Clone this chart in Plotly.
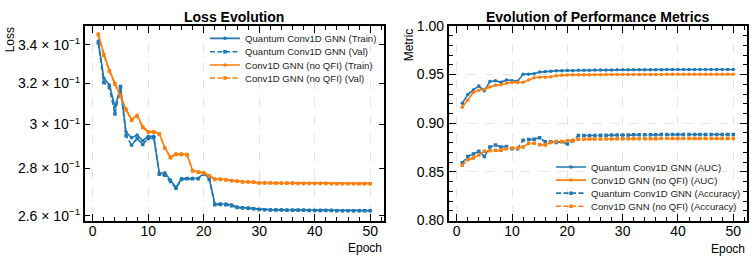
import plotly.graph_objects as go

# ---------------- data ----------------
epochs = list(range(1, 51))

loss_quantum_train = [0.3421, 0.3226, 0.3193, 0.3085, 0.3178, 0.2965, 0.2938, 0.2951, 0.2925, 0.2945,
                      0.2945, 0.2779, 0.2781, 0.2750, 0.2718, 0.2756, 0.2757, 0.2757, 0.2757, 0.2779,
                      0.2756, 0.2649, 0.2649, 0.2648, 0.2645, 0.2635, 0.2633, 0.2631, 0.2629, 0.2626,
                      0.2625, 0.2624, 0.2624, 0.2624, 0.2623, 0.2623, 0.2623, 0.2623, 0.2622, 0.2622,
                      0.2622, 0.2622, 0.2622, 0.2621, 0.2621, 0.2621, 0.2621, 0.2621, 0.2621, 0.2621]
loss_quantum_val = [0.3410, 0.3205, 0.3180, 0.3050, 0.3185, 0.2948, 0.2905, 0.2935, 0.2908, 0.2935,
                    0.2938, 0.2775, 0.2770, 0.2743, 0.2714, 0.2752, 0.2755, 0.2755, 0.2755, 0.2776,
                    0.2752, 0.2645, 0.2646, 0.2645, 0.2641, 0.2633, 0.2631, 0.2630, 0.2628, 0.2625,
                    0.2624, 0.2623, 0.2623, 0.2623, 0.2622, 0.2622, 0.2622, 0.2622, 0.2621, 0.2621,
                    0.2621, 0.2621, 0.2621, 0.2620, 0.2620, 0.2620, 0.2620, 0.2620, 0.2620, 0.2620]
loss_conv_train = [0.3461, 0.3352, 0.3268, 0.3201, 0.3140, 0.3074, 0.3025, 0.3044, 0.2990, 0.2968,
                   0.2967, 0.2958, 0.2893, 0.2851, 0.2865, 0.2865, 0.2863, 0.2791, 0.2785, 0.2781,
                   0.2769, 0.2754, 0.2754, 0.2752, 0.2747, 0.2745, 0.2742, 0.2742, 0.2741, 0.2738,
                   0.2738, 0.2738, 0.2737, 0.2737, 0.2737, 0.2737, 0.2736, 0.2736, 0.2736, 0.2736,
                   0.2736, 0.2736, 0.2735, 0.2735, 0.2735, 0.2735, 0.2735, 0.2735, 0.2735, 0.2735]
loss_conv_val = [0.3455, 0.3346, 0.3262, 0.3196, 0.3136, 0.3069, 0.3020, 0.3040, 0.2986, 0.2965,
                 0.2964, 0.2955, 0.2890, 0.2848, 0.2862, 0.2862, 0.2860, 0.2789, 0.2783, 0.2779,
                 0.2767, 0.2752, 0.2752, 0.2750, 0.2746, 0.2744, 0.2741, 0.2741, 0.2740, 0.2737,
                 0.2737, 0.2737, 0.2736, 0.2736, 0.2736, 0.2736, 0.2735, 0.2735, 0.2735, 0.2735,
                 0.2735, 0.2735, 0.2734, 0.2734, 0.2734, 0.2734, 0.2734, 0.2734, 0.2734, 0.2734]

auc_quantum = [0.9204, 0.9294, 0.9342, 0.9381, 0.9333, 0.9429, 0.9435, 0.9422, 0.9445, 0.9435,
               0.9432, 0.9502, 0.9502, 0.9509, 0.9525, 0.9531, 0.9534, 0.9538, 0.9540, 0.9541,
               0.9542, 0.9543, 0.9544, 0.9545, 0.9546, 0.9546, 0.9547, 0.9547, 0.9548, 0.9548,
               0.9549, 0.9549, 0.9549, 0.9550, 0.9550, 0.9550, 0.9550, 0.9551, 0.9551, 0.9551,
               0.9551, 0.9551, 0.9552, 0.9552, 0.9552, 0.9552, 0.9552, 0.9552, 0.9552, 0.9552]
auc_conv = [0.9165, 0.9236, 0.9316, 0.9339, 0.9349, 0.9371, 0.9390, 0.9396, 0.9413, 0.9422,
            0.9419, 0.9422, 0.9444, 0.9467, 0.9473, 0.9473, 0.9477, 0.9487, 0.9493, 0.9496,
            0.9497, 0.9498, 0.9498, 0.9499, 0.9499, 0.9499, 0.9500, 0.9500, 0.9500, 0.9500,
            0.9501, 0.9501, 0.9501, 0.9501, 0.9501, 0.9501, 0.9501, 0.9502, 0.9502, 0.9502,
            0.9502, 0.9502, 0.9502, 0.9502, 0.9502, 0.9502, 0.9502, 0.9502, 0.9502, 0.9502]
acc_quantum = [0.8594, 0.8659, 0.8684, 0.8713, 0.8659, 0.8755, 0.8777, 0.8755, 0.8761, 0.8739,
               0.8739, 0.8825, 0.8832, 0.8835, 0.8851, 0.8809, 0.8809, 0.8803, 0.8809, 0.8787,
               0.8819, 0.8873, 0.8873, 0.8874, 0.8875, 0.8876, 0.8877, 0.8878, 0.8879, 0.8880,
               0.8880, 0.8881, 0.8881, 0.8882, 0.8882, 0.8882, 0.8883, 0.8883, 0.8883, 0.8884,
               0.8884, 0.8884, 0.8884, 0.8885, 0.8885, 0.8885, 0.8885, 0.8885, 0.8885, 0.8885]
acc_conv = [0.8568, 0.8626, 0.8642, 0.8674, 0.8713, 0.8716, 0.8722, 0.8722, 0.8739, 0.8745,
            0.8745, 0.8755, 0.8793, 0.8793, 0.8780, 0.8777, 0.8803, 0.8813, 0.8813, 0.8819,
            0.8825, 0.8835, 0.8836, 0.8837, 0.8838, 0.8838, 0.8839, 0.8839, 0.8840, 0.8840,
            0.8840, 0.8841, 0.8841, 0.8841, 0.8841, 0.8841, 0.8842, 0.8842, 0.8842, 0.8842,
            0.8842, 0.8842, 0.8842, 0.8842, 0.8842, 0.8842, 0.8842, 0.8842, 0.8842, 0.8842]

loss_tick_vals = [0.26, 0.28, 0.30, 0.32, 0.34]
loss_tick_text = ["2.6 × 10<sup>−1</sup>", "2.8 × 10<sup>−1</sup>", "3 × 10<sup>−1</sup>",
                  "3.2 × 10<sup>−1</sup>", "3.4 × 10<sup>−1</sup>"]

# ---------------- styling ----------------
W, H = 753, 264
FONT = "Liberation Sans"
BLUE = "#1f77b4"
ORANGE = "#ff7f0e"
GRID = "rgba(0,0,0,0.10)"


def fx(p):
    return p / W


def fy(p):
    return 1 - p / H


L_X = (84.7, 383.8)
R_X = (448.7, 746.8)
Y_PX = (19.0, 226.3)

fig = go.Figure()

series_left = [
    ("Quantum Conv1D GNN (Train)", loss_quantum_train, BLUE, "solid", "circle"),
    ("Quantum Conv1D GNN (Val)", loss_quantum_val, BLUE, "5px,2.5px", "square"),
    ("Conv1D GNN (no QFI) (Train)", loss_conv_train, ORANGE, "solid", "circle"),
    ("Conv1D GNN (no QFI) (Val)", loss_conv_val, ORANGE, "5px,2.5px", "square"),
]
series_right = [
    ("Quantum Conv1D GNN (AUC)", auc_quantum, BLUE, "solid", "circle"),
    ("Conv1D GNN (no QFI) (AUC)", auc_conv, ORANGE, "solid", "circle"),
    ("Quantum Conv1D GNN (Accuracy)", acc_quantum, BLUE, "5px,2.5px", "square"),
    ("Conv1D GNN (no QFI) (Accuracy)", acc_conv, ORANGE, "5px,2.5px", "square"),
]

legend_rows_left = [32.3, 46.5, 60.7, 74.5]
legend_rows_right = [169.3, 183.2, 197.1, 211.0]

layout_legends = {}
k = 1
for (name, vals, col, dash, sym), row in zip(series_left, legend_rows_left):
    lname = "legend" if k == 1 else f"legend{k}"
    fig.add_trace(go.Scatter(x=epochs, y=vals, name=name, mode="lines+markers",
                             line=dict(color=col, width=1.6, dash=dash),
                             marker=dict(symbol=sym, size=3.5, color=col),
                             xaxis="x", yaxis="y", legend=lname))
    layout_legends[lname] = dict(x=fx(205), y=fy(row), xanchor="left", yanchor="middle",
                                 bgcolor="rgba(0,0,0,0)", borderwidth=0,
                                 font=dict(family=FONT, size=9.6, color="#222"))
    k += 1
for (name, vals, col, dash, sym), row in zip(series_right, legend_rows_right):
    lname = f"legend{k}"
    fig.add_trace(go.Scatter(x=epochs, y=vals, name=name, mode="lines+markers",
                             line=dict(color=col, width=1.6, dash=dash),
                             marker=dict(symbol=sym, size=3.5, color=col),
                             xaxis="x2", yaxis="y2", legend=lname))
    layout_legends[lname] = dict(x=fx(551), y=fy(row), xanchor="left", yanchor="middle",
                                 bgcolor="rgba(0,0,0,0)", borderwidth=0,
                                 font=dict(family=FONT, size=9.6, color="#222"))
    k += 1

tickfont = dict(family=FONT, size=14, color="black")
common_axis = dict(showline=True, linecolor="black", linewidth=1.6, mirror="allticks",
                   ticks="inside", tickcolor="black", tickwidth=1.2, tickfont=tickfont,
                   zeroline=False)

xaxis_common = dict(common_axis, range=[-1.45, 52.45], tick0=0, dtick=10, ticklen=7,
                    ticklabelstandoff=-3,
                    showgrid=True, gridcolor=GRID, griddash="dash", gridwidth=0.8,
                    minor=dict(dtick=2, tick0=0, ticks="inside", ticklen=4,
                               tickcolor="black", tickwidth=1.0, showgrid=False))

fig.update_layout(
    width=W, height=H,
    margin=dict(l=0, r=0, t=0, b=0),
    paper_bgcolor="white", plot_bgcolor="white",
    font=dict(family=FONT, color="black"),
    xaxis=dict(xaxis_common, domain=[fx(L_X[0]), fx(L_X[1])], anchor="y"),
    yaxis=dict(common_axis, type="log", domain=[fy(Y_PX[1]), fy(Y_PX[0])], anchor="x",
               range=[-0.58843, -0.45548], tickvals=loss_tick_vals, ticktext=loss_tick_text,
               ticklen=5, showgrid=False),
    xaxis2=dict(xaxis_common, domain=[fx(R_X[0]), fx(R_X[1])], anchor="y2"),
    yaxis2=dict(common_axis, domain=[fy(Y_PX[1]), fy(Y_PX[0])], anchor="x2",
                range=[0.80, 1.00], tick0=0.8, dtick=0.05, tickformat=".2f", ticklen=7,
                showgrid=True, gridcolor=GRID, griddash="dash", gridwidth=0.8,
                minor=dict(dtick=0.01, ticks="inside", ticklen=4, tickcolor="black",
                           tickwidth=1.0, showgrid=False)),
    showlegend=True,
    **layout_legends,
)

annotations = [
    dict(text="<b>Loss Evolution</b>", x=fx((L_X[0] + L_X[1]) / 2), y=fy(10),
         xanchor="center", yanchor="middle", font=dict(family=FONT, size=14)),
    dict(text="<b>Evolution of Performance Metrics</b>", x=fx((R_X[0] + R_X[1]) / 2), y=fy(10),
         xanchor="center", yanchor="middle", font=dict(family=FONT, size=14)),
    dict(text="Loss", x=fx(10), y=fy(19), xanchor="center", yanchor="top", textangle=-90,
         font=dict(family=FONT, size=12)),
    dict(text="Metric", x=fx(409), y=fy(19), xanchor="center", yanchor="top", textangle=-90,
         font=dict(family=FONT, size=12)),
    dict(text="Epoch", x=fx(L_X[1]), y=fy(256), xanchor="right", yanchor="middle",
         font=dict(family=FONT, size=12)),
    dict(text="Epoch", x=fx(R_X[1]), y=fy(257), xanchor="right", yanchor="middle",
         font=dict(family=FONT, size=12)),
]
for a in annotations:
    a.update(xref="paper", yref="paper", showarrow=False)
fig.update_layout(annotations=annotations)

fig.write_html("out.html", config={"displayModeBar": False},
               post_script="document.body.style.margin='0';document.body.style.padding='0';")
